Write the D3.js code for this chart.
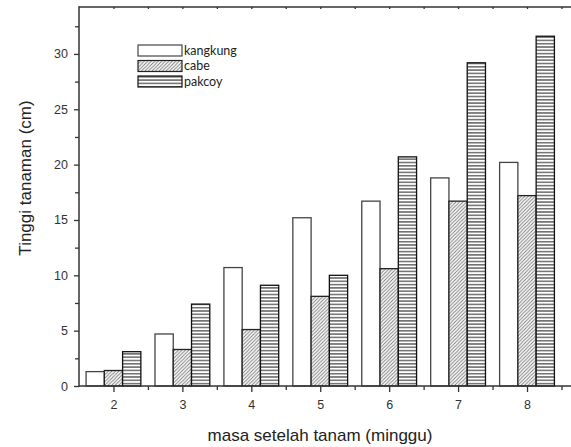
<!DOCTYPE html>
<html><head><meta charset="utf-8">
<script src="https://cdn.jsdelivr.net/npm/d3@7"></script>
<style>body{margin:0;background:#fff}svg{display:block}</style>
</head><body>
<svg id="c" width="571" height="447"></svg>
<script>
const weeks = [2, 3, 4, 5, 6, 7, 8];
const seriesNames = ["kangkung", "cabe", "pakcoy"];
const kangkung = [1.3, 4.7, 10.7, 15.2, 16.7, 18.8, 20.2];
const cabe = [1.4, 3.3, 5.1, 8.1, 10.6, 16.7, 17.2];
const pakcoy = [3.1, 7.4, 9.1, 10.0, 20.7, 29.2, 31.6];
const yTicks = [0, 5, 10, 15, 20, 25, 30];
const xLabel = "masa setelah tanam (minggu)";
const yLabel = "Tinggi tanaman (cm)";

const values = [kangkung, cabe, pakcoy];
const svg = d3.select("#c");
const L = 79, T = 7, B = 386, R = 572.5;
const x = d3.scaleLinear().domain([1.5, 8.66]).range([L, R]);
const y = d3.scaleLinear().domain([0, 34.24]).range([B, T]);
const bw = 0.265;
const axisCol = "#333";

const defs = svg.append("defs");
const p1 = defs.append("pattern").attr("id", "diag").attr("patternUnits", "userSpaceOnUse")
  .attr("width", 3.5).attr("height", 3.5);
p1.append("rect").attr("width", 3.5).attr("height", 3.5).attr("fill", "#fff");
p1.append("path").attr("d", "M-1,1 l2,-2 M0,3.5 l3.5,-3.5 M2.5,4.5 l2,-2")
  .attr("stroke", "#777").attr("stroke-width", 0.9);
const p2 = defs.append("pattern").attr("id", "horiz").attr("patternUnits", "userSpaceOnUse")
  .attr("width", 6).attr("height", 3.3);
p2.append("rect").attr("width", 6).attr("height", 3.3).attr("fill", "#fff");
p2.append("line").attr("x1", 0).attr("x2", 6).attr("y1", 0.8).attr("y2", 0.8)
  .attr("stroke", "#333").attr("stroke-width", 1.1);
const fills = ["#fff", "url(#diag)", "url(#horiz)"];
const strokes = ["#444", "#222", "#111"];

// bars
values.forEach((vals, si) => {
  svg.append("g").selectAll("rect").data(weeks).join("rect")
    .attr("x", (d) => x(d + (si - 1.5) * bw))
    .attr("width", x(bw) - x(0))
    .attr("y", (d, i) => y(vals[i]))
    .attr("height", (d, i) => y(0) - y(vals[i]))
    .attr("fill", fills[si])
    .attr("stroke", strokes[si])
    .attr("stroke-width", 1.3);
});

// axes
const font = "'Liberation Sans', 'Arial', sans-serif";
const yAxis = d3.axisLeft(y).tickValues(yTicks).tickSize(5).tickPadding(6).tickFormat(d3.format("d"));
svg.append("g").attr("transform", `translate(${L},0)`).call(yAxis);
svg.append("g").attr("transform", `translate(${L},0)`)
  .call(d3.axisLeft(y).tickValues([2.5, 7.5, 12.5, 17.5, 22.5, 27.5, 32.5]).tickSize(4).tickFormat(""))
  .call(g => g.select(".domain").remove());
const xAxis = d3.axisBottom(x).tickValues(weeks).tickSize(6).tickPadding(8).tickFormat(d3.format("d"));
svg.append("g").attr("transform", `translate(0,${B})`).call(xAxis);
svg.append("g").attr("transform", `translate(0,${B})`)
  .call(d3.axisBottom(x).tickValues([2.5, 3.5, 4.5, 5.5, 6.5, 7.5, 8.5]).tickSize(4).tickFormat(""))
  .call(g => g.select(".domain").remove());
// top axis tiny ticks
svg.append("g").attr("transform", `translate(0,${T})`)
  .call(d3.axisBottom(x).tickValues([2, 2.5, 3, 3.5, 4, 4.5, 5, 5.5, 6, 6.5, 7, 7.5, 8, 8.5]).tickSize(2).tickFormat(""))
  .call(g => g.select(".domain").remove());

svg.selectAll(".tick line").attr("stroke", axisCol).attr("stroke-width", 1.3);
svg.selectAll(".domain").attr("stroke", "none");
svg.selectAll(".tick text").attr("fill", "#333").style("font-family", font).style("font-size", "12.5px");

// frame lines
svg.append("line").attr("x1", L).attr("x2", 571).attr("y1", B).attr("y2", B).attr("stroke", axisCol).attr("stroke-width", 1.5);
svg.append("line").attr("x1", L).attr("x2", 571).attr("y1", T).attr("y2", T).attr("stroke", axisCol).attr("stroke-width", 1.5);
svg.append("line").attr("x1", L).attr("x2", L).attr("y1", T - 0.75).attr("y2", B + 0.75).attr("stroke", axisCol).attr("stroke-width", 1.5);

// axis labels
svg.append("text").attr("x", 320).attr("y", 441).attr("text-anchor", "middle")
  .style("font-family", font).style("font-size", "17px").attr("fill", "#222").text(xLabel);
svg.append("text").attr("transform", "translate(31,178) rotate(-90)").attr("text-anchor", "middle")
  .style("font-family", font).style("font-size", "17px").attr("fill", "#222").text(yLabel);

// legend
const leg = svg.append("g").attr("transform", "translate(138,45)");
seriesNames.forEach((n, i) => {
  const g = leg.append("g").attr("transform", `translate(0,${i * 15.5})`);
  g.append("rect").attr("width", 44).attr("height", 11).attr("fill", fills[i])
    .attr("stroke", strokes[i]).attr("stroke-width", 1.2);
  g.append("text").attr("x", 46).attr("y", 9.5)
    .style("font-family", "'Lato', sans-serif").style("font-size", "12.5px")
    .attr("fill", "#222").text(n);
});
</script>
</body></html>
